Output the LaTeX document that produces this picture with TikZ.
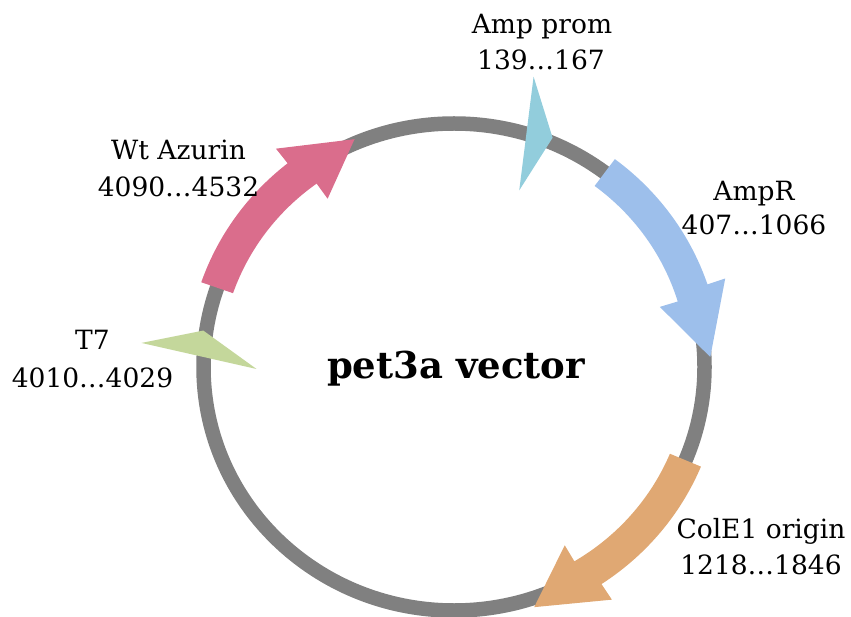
\documentclass[tikz,border=0pt]{standalone}
\usepackage{fontspec}
\setmainfont{DejaVu Serif}
\definecolor{ringgray}{HTML}{808080}
\definecolor{azpink}{HTML}{DA6D8C}
\definecolor{ampblue}{HTML}{9DBFEB}
\definecolor{promcyan}{HTML}{92CDDC}
\definecolor{tsgreen}{HTML}{C4D79B}
\definecolor{oriorange}{HTML}{E0A873}
\def\cx{454}\def\cy{367}\def\rx{250.5}\def\ry{243.5}
\def\bw{16.8}\def\hw{35.5}
% #1 colour, #2 tail angle, #3 head-base angle (outer barb), #4 head-base angle (inner barb), #5 tip angle, #6 tip offset
\newcommand{\plasarrow}[6]{%
 \fill[#1] plot[domain=#2:#3, samples=40, variable=\ang] ({\cx+(\rx+\bw)*cos(\ang)},{\cy-(\ry+\bw)*sin(\ang)})
 -- ({\cx+(\rx+\hw)*cos(#3)},{\cy-(\ry+\hw)*sin(#3)})
 -- ({\cx+(\rx+#6)*cos(#5)},{\cy-(\ry+#6)*sin(#5)})
 -- ({\cx+(\rx-\hw)*cos(#4)},{\cy-(\ry-\hw)*sin(#4)})
 -- plot[domain=#4:#2, samples=40, variable=\ang] ({\cx+(\rx-\bw)*cos(\ang)},{\cy-(\ry-\bw)*sin(\ang)})
 -- cycle;}
\begin{document}
\begin{tikzpicture}[x=1pt,y=-1pt,
  lbl/.style={font=\fontsize{26.5}{30}\selectfont, anchor=base, inner sep=0pt},
  ttl/.style={font=\bfseries\fontsize{37}{42}\selectfont, anchor=base, inner sep=0pt}]
\useasboundingbox (0,0) rectangle (851,617);
% backbone
\draw[ringgray, line width=14.5pt] (\cx,\cy) ellipse [x radius=250.5pt, y radius=243.5pt];
% features
\plasarrow{azpink}{161}{128.5}{126}{113}{4}
\plasarrow{ampblue}{53}{18.5}{16.8}{2.3}{6}
\plasarrow{oriorange}{-22.5}{-56.5}{-59}{-72}{9}
% Amp prom
\coordinate (apO) at ({\cx+(\rx+57)*cos(75)},{\cy-(\ry+57)*sin(75)});
\coordinate (apT) at ({\cx+(\rx+5)*cos(67.3)},{\cy-(\ry+5)*sin(67.3)});
\coordinate (apI) at ({\cx+(\rx-56)*cos(70.4)},{\cy-(\ry-56)*sin(70.4)});
\fill[promcyan] (apO) -- (apT) -- (apI) -- cycle;
% T7
\coordinate (t7O) at ({\cx+(\rx+63)*cos(175.5)},{\cy-(\ry+63)*sin(175.5)});
\coordinate (t7T) at ({\cx+(\rx+3)*cos(171.5)},{\cy-(\ry+3)*sin(171.5)});
\coordinate (t7I) at ({\cx+(\rx-53)*cos(180.6)},{\cy-(\ry-53)*sin(180.6)});
\fill[tsgreen] (t7O) -- (t7T) -- (t7I) -- cycle;
% labels
\node[lbl] (apL1) at (542,34) {Amp prom};
\node[lbl] (apL2) at (541,70) {139…167};
\node[lbl] (arL1) at (754,201) {AmpR};
\node[lbl] (arL2) at (754,235) {407…1066};
\node[lbl] (coL1) at (761,538) {ColE1 origin};
\node[lbl] (coL2) at (761,574) {1218…1846};
\node[lbl] (t7L1) at (92.5,350) {T7};
\node[lbl] (t7L2) at (92.5,387) {4010…4029};
\node[lbl] (azL1) at (178.5,160) {Wt Azurin};
\node[lbl] (azL2) at (178.5,197) {4090…4532};
\node[ttl] (title) at (456,378) {pet3a vector};
\end{tikzpicture}
\end{document}
